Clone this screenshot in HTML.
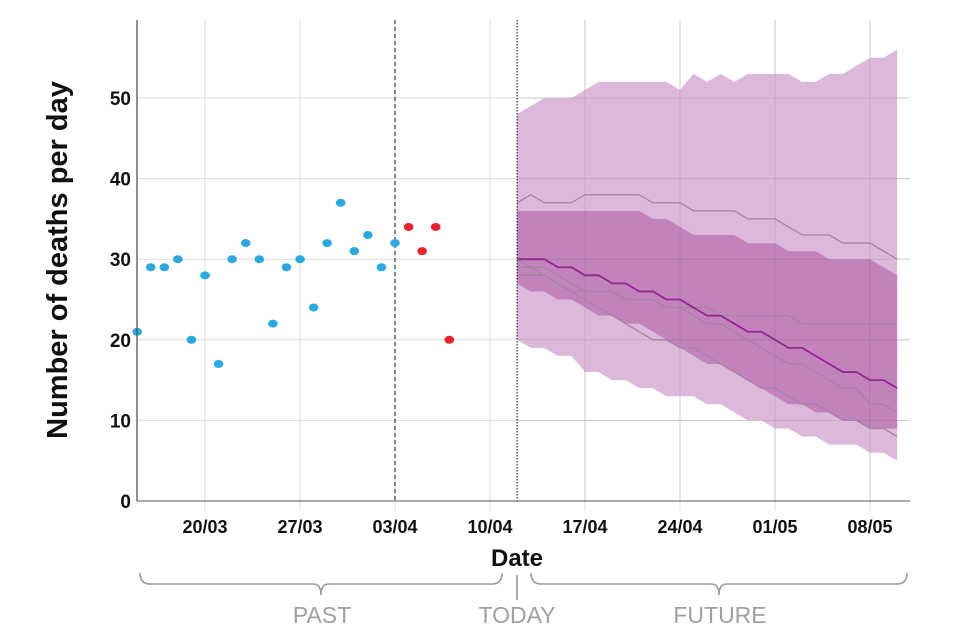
<!DOCTYPE html>
<html><head><meta charset="utf-8"><style>
html,body{margin:0;padding:0;background:#fff;}
svg{display:block;font-family:"Liberation Sans",sans-serif;}
</style></head><body>
<svg id="chart" width="960" height="640"></svg>
<script>
// ---- data ----
const yTicks = [0,10,20,30,40,50];
const xTickDays = [0,7,14,21,28,35,42,49];
const xTickLabels = ["20/03","27/03","03/04","10/04","17/04","24/04","01/05","08/05"];
const pastDays = [-5,-4,-3,-2,-1,0,1,2,3,4,5,6,7,8,9,10,11,12,13,14];
const pastValues = [21,29,29,30,20,28,17,30,32,30,22,29,30,24,32,37,31,33,29,32];
const recentDays = [15,16,17,18];
const recentValues = [34,31,34,20];
const futureDays = [23,24,25,26,27,28,29,30,31,32,33,34,35,36,37,38,39,40,41,42,43,44,45,46,47,48,49,50,51];
const outerUpper = [48,49,50,50,50,51,52,52,52,52,52,52,51,53,52,53,52,53,53,53,53,52,52,53,53,54,55,55,56];
const outerLower = [20,19,19,18,18,16,16,15,15,14,14,13,13,13,12,12,11,10,10,9,9,8,8,7,7,7,6,6,5];
const innerUpper = [36,36,36,36,36,36,36,36,36,36,35,35,34,33,33,33,33,32,32,32,31,31,31,30,30,30,30,29,28];
const innerLower = [27,26,26,25,25,24,23,23,22,22,21,20,19,18,17,17,16,15,14,13,12,12,11,11,10,10,9,9,9];
const medianLine = [30,30,30,29,29,28,28,27,27,26,26,25,25,24,23,23,22,21,21,20,19,19,18,17,16,16,15,15,14];
const greyUpper = [37,38,37,37,37,38,38,38,38,38,37,37,37,36,36,36,36,35,35,35,34,33,33,33,32,32,32,31,30];
const greyA = [29,29,29,28,27,26,26,26,25,25,25,24,24,24,24,23,23,23,23,23,23,22,22,22,22,22,22,22,22];
const greyB = [30,29,28,27,26,26,26,26,25,25,25,24,24,23,22,22,21,20,19,18,17,17,16,15,14,14,12,12,11];
const greyC = [28,28,28,27,26,25,24,23,22,21,20,20,19,19,18,17,16,15,14,14,13,12,12,11,10,10,9,9,8];
const lastObsDay = 14, todayDay = 23;

// ---- scales ----
const X0=137, X1=910, Ytop=20, Ybot=501;
const x = d => 205 + d*(95/7);
const y = v => Ybot - v*8.06;
const NS="http://www.w3.org/2000/svg";
const svg=document.getElementById('chart');
function mk(tag, attrs, parent){const e=document.createElementNS(NS,tag);for(const k in attrs)e.setAttribute(k,attrs[k]);(parent||svg).appendChild(e);return e;}

// grid
const grid=mk('g',{});


yTicks.forEach(t=>{ if(t>0){const l=mk('line',{x1:X0,x2:X1,y1:y(t),y2:y(t),stroke:'#dcdcdc','stroke-width':1},grid);

}});
xTickDays.forEach(d=>{const l=mk('line',{x1:x(d),x2:x(d),y1:Ytop,y2:Ybot+10,stroke:'#dcdcdc','stroke-width':1},grid);

});

// bands
function band(up,lo,fill,name){
  let p='M'+futureDays.map((d,i)=>x(d)+','+y(up[i])).join('L');
  for(let i=futureDays.length-1;i>=0;i--)p+='L'+x(futureDays[i])+','+y(lo[i]);
  const e=mk('path',{d:p+'Z',fill:fill});
  
  
}
band(outerUpper,outerLower,'#dcb8da','outer-uncertainty-band');
band(innerUpper,innerLower,'#c283bd','inner-uncertainty-band');
yTicks.forEach(t=>{ if(t>0){const l=mk('line',{x1:x(todayDay),x2:X1,y1:y(t),y2:y(t),stroke:'#000','stroke-opacity':0.08,'stroke-width':1});

}});
xTickDays.filter(d=>d>todayDay).forEach(d=>{const l=mk('line',{x1:x(d),x2:x(d),y1:Ytop,y2:Ybot,stroke:'#000','stroke-opacity':0.08,'stroke-width':1});

});

function line(vals,stroke,w,name){
  const e=mk('polyline',{points:futureDays.map((d,i)=>x(d)+','+y(vals[i])).join(' '),fill:'none',stroke:stroke,'stroke-width':w});
  
  
}
line(greyUpper,'#a4849f',1.3,'scenario-line-upper');
line(greyA,'#a4849f',1.3,'scenario-line-a');
line(greyB,'#a4849f',1.3,'scenario-line-b');
line(greyC,'#a4849f',1.3,'scenario-line-c');
line(medianLine,'#93278f',1.8,'median-forecast-line');

// vertical markers
const dl=mk('line',{x1:x(lastObsDay),x2:x(lastObsDay),y1:Ytop,y2:Ybot,stroke:'#333','stroke-width':1.2,'stroke-dasharray':'4,3'});


const tl=mk('line',{x1:x(todayDay),x2:x(todayDay),y1:Ytop,y2:Ybot,stroke:'#333','stroke-width':1.2,'stroke-dasharray':'1.5,1.5'});



// points
pastDays.forEach((d,i)=>{const c=mk('ellipse',{cx:x(d),cy:y(pastValues[i]),rx:4.8,ry:4,fill:'#29a9e1'});

});
recentDays.forEach((d,i)=>{const c=mk('ellipse',{cx:x(d),cy:y(recentValues[i]),rx:4.8,ry:4,fill:'#e8222b'});

});

// axes
const ya=mk('line',{x1:X0,x2:X0,y1:Ytop,y2:Ybot,stroke:'#555','stroke-width':1.3});


const xa=mk('line',{x1:X0,x2:X1,y1:Ybot,y2:Ybot,stroke:'#777','stroke-width':1.3});



yTicks.forEach(t=>{const e=mk('text',{x:X0-6,y:y(t)+7,'text-anchor':'end','font-size':19,'font-weight':'bold',fill:'#111'});e.textContent=t;

});
xTickDays.forEach((d,i)=>{const e=mk('text',{x:x(d),y:533,'text-anchor':'middle','font-size':18,'font-weight':'bold',fill:'#111'});e.textContent=xTickLabels[i];

});

const yt=mk('text',{x:0,y:0,transform:'translate(67,260) rotate(-90)','text-anchor':'middle','font-size':29,'font-weight':'bold',fill:'#111'});
yt.textContent='Number of deaths per day';


const xt=mk('text',{x:517,y:566,'text-anchor':'middle','font-size':24,'font-weight':'bold',fill:'#111'});
xt.textContent='Date';



// braces
function brace(a,b,name){
  const m=(a+b)/2;
  const d=`M${a},573 Q${a},584 ${a+10},584 L${m-8},584 Q${m},584 ${m},595 Q${m},584 ${m+8},584 L${b-10},584 Q${b},584 ${b},573`;
  const e=mk('path',{d:d,fill:'none',stroke:'#999','stroke-width':1.6});
  
  
}
brace(140,502,'past-brace');
brace(531,907,'future-brace');
const tk=mk('line',{x1:517,x2:517,y1:575,y2:600,stroke:'#999','stroke-width':1.6});


[['PAST',322,'past-label'],['TODAY',517,'today-label'],['FUTURE',720,'future-label']].forEach(a=>{
  const e=mk('text',{x:a[1],y:623,'text-anchor':'middle','font-size':23,fill:'#a0a0a0'});e.textContent=a[0];
  
  
});
</script>
</body></html>
